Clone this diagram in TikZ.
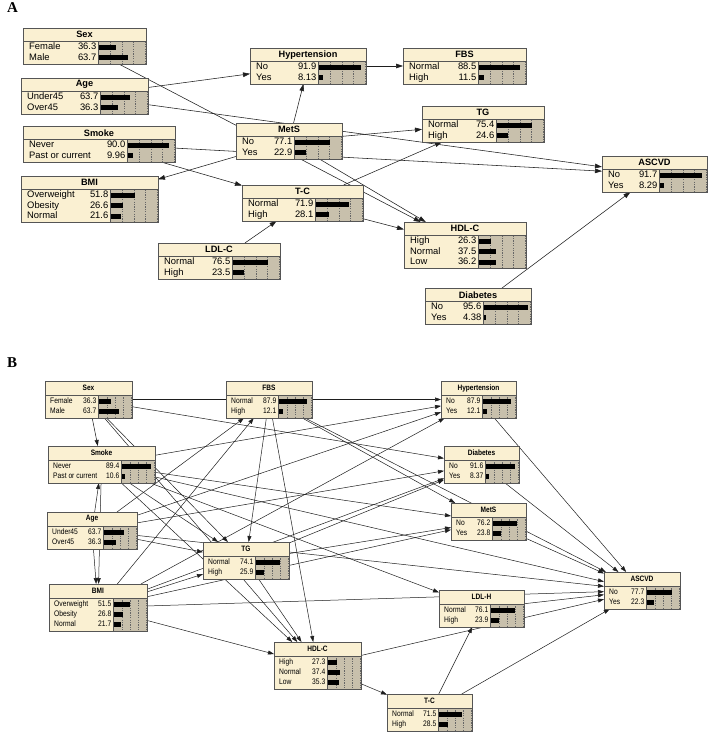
\documentclass[tikz,border=0pt]{standalone}
\usepackage{fontspec}
\setmainfont{Liberation Serif}
\newfontfamily\netfont{Liberation Sans}
\newfontfamily\netnarrow[FakeStretch=0.84]{Liberation Sans}
\usetikzlibrary{arrows.meta,backgrounds}

\definecolor{nodecream}{RGB}{250,240,210}
\definecolor{barbg}{RGB}{200,192,172}
\definecolor{boxline}{RGB}{85,85,85}
\definecolor{linkcol}{RGB}{30,30,30}

% Netica style node: name, top-left corner, width, title, states (label/percent)
\newcommand{\netnode}[5]{%
  \foreach \s/\v [count=\k] in {#5} {\xdef\nrows{\k}}
  \pgfmathsetmacro\boxh{\ttlh+\nrows*\rowh+\bodypad}
  \node[netbox, minimum width=#3pt, minimum height=\boxh pt] (#1) at #2 {};
  \begin{scope}[shift={(#1.north west)}]
    \fill[barbg] (#3-\barw,\ttlh) rectangle (#3,\boxh);
    \foreach \q in {1,...,4}
      \draw[gaugeline] (#3-\barw+1+\q*\barsc/4,\ttlh) -- ++(0,\boxh-\ttlh);
    \draw[boxline,line width=0.6pt] (0,\ttlh) -- (#3,\ttlh) (#3-\barw,\ttlh) -- (#3-\barw,\boxh);
    \node[nettitle] (#1-t) at (#3/2,\ttlh/2) {#4};
    \foreach \s/\v [count=\k] in {#5} {
      \pgfmathsetmacro\yy{\ttlh+\rowoff+(\k-1)*\rowh}
      \node[netstate,anchor=west] (#1-s\k) at (\labx,\yy) {\s};
      \node[netstate,anchor=east] (#1-v\k) at (#3-\barw-1.5,\yy) {\v};
      \fill (#3-\barw+1,\yy-\barh/2) rectangle ++(\v*\barsc/100,\barh);
    }
    \draw[boxline,line width=0.7pt] (0,0) rectangle (#3,\boxh);
  \end{scope}
}

\begin{document}
\begin{tikzpicture}[x=1pt,y=-1pt,
  netbox/.style={rectangle,draw=boxline,fill=nodecream,line width=0.7pt,inner sep=0pt,outer sep=0pt,anchor=north west},
  gaugeline/.style={draw=black!60,line width=0.35pt,dash pattern=on 1.2pt off 1.2pt},
  netlink/.style={draw=linkcol,line width=0.55pt,-{Triangle[length=7pt,width=4.6pt]}},
  panellab/.style={font=\bfseries\fontsize{15}{15}\selectfont,inner sep=0pt,anchor=base west}]

\begin{scope}[on background layer]
  \fill[white] (0,0) rectangle (708,733);
\end{scope}
\useasboundingbox (0,0) rectangle (708,733);

%% panel A
\node[panellab] (labA) at (7,13) {A};
\def\ttlh{13.5}\def\rowh{10.5}\def\rowoff{5.75}\def\bodypad{1.5}
\def\barw{48}\def\barsc{46}\def\barh{5}\def\labx{6}
\begin{scope}[nettitle/.style={font=\netfont\bfseries\fontsize{9.2}{10}\selectfont,inner sep=0pt},
  netstate/.style={font=\netfont\fontsize{9.4}{10}\selectfont,inner sep=0pt,text height=6.8pt,text depth=2pt}]
  \netnode{Sex}{(23,28)}{123}{Sex}{Female/36.3,Male/63.7}
  \netnode{Age}{(21,78)}{127}{Age}{Under45/63.7,Over45/36.3}
  \netnode{Smoke}{(23,126)}{152}{Smoke}{Never/90.0,Past or current/9.96}
  \netnode{BMI}{(21,176)}{137}{BMI}{Overweight/51.8,Obesity/26.6,Normal/21.6}
  \netnode{LDLC}{(158,243)}{122}{LDL-C}{Normal/76.5,High/23.5}
  \netnode{Hyp}{(250,48)}{116}{Hypertension}{No/91.9,Yes/8.13}
  \netnode{MetS}{(236,123)}{106}{MetS}{No/77.1,Yes/22.9}
  \netnode{FBS}{(403,48)}{123}{FBS}{Normal/88.5,High/11.5}
  \netnode{TG}{(422,106)}{122}{TG}{Normal/75.4,High/24.6}
  \netnode{ASCVD}{(602,156)}{105}{ASCVD}{No/91.7,Yes/8.29}
  \netnode{TC}{(242,185)}{121}{T-C}{Normal/71.9,High/28.1}
  \netnode{HDLC}{(404,222)}{122}{HDL-C}{High/26.3,Normal/37.5,Low/36.2}
  \netnode{Diab}{(425,288)}{106}{Diabetes}{No/95.6,Yes/4.38}
\end{scope}

\begin{scope}[on background layer]
  \draw[netlink] (Age) -- (Hyp);
  \draw[netlink] (Hyp) -- (FBS);
  \draw[netlink] (MetS) -- (Hyp);
  \draw[netlink] (Age) -- (ASCVD);
  \draw[netlink] (Smoke) -- (ASCVD);
  \draw[netlink] (Sex) -- (HDLC);
  \draw[netlink] (MetS) -- (HDLC);
  \draw[netlink] (MetS) -- (TG);
  \draw[netlink] (MetS) -- (BMI);
  \draw[netlink] (Smoke) -- (TC);
  \draw[netlink] (TC) -- (TG);
  \draw[netlink] (TC) -- (HDLC);
  \draw[netlink] (LDLC) -- (TC);
  \draw[netlink] (Diab) -- (ASCVD);
\end{scope}

%% panel B
\node[panellab] (labB) at (7,367) {B};
\def\ttlh{14}\def\rowh{10}\def\rowoff{6.5}\def\bodypad{3}
\def\barw{34}\def\barsc{32}\def\barh{5}\def\labx{5}
\begin{scope}[nettitle/.style={font=\netnarrow\bfseries\fontsize{7.8}{9}\selectfont,inner sep=0pt},
  netstate/.style={font=\netnarrow\fontsize{8}{9}\selectfont,inner sep=0pt,text height=6pt,text depth=1.8pt}]
  \netnode{bSex}{(45,381)}{87}{Sex}{Female/36.3,Male/63.7}
  \netnode{bFBS}{(226,381)}{86}{FBS}{Normal/87.9,High/12.1}
  \netnode{bHyp}{(441,381)}{75}{Hypertension}{No/87.9,Yes/12.1}
  \netnode{bSmoke}{(48,446)}{107}{Smoke}{Never/89.4,Past or current/10.6}
  \netnode{bDiab}{(444,446)}{75}{Diabetes}{No/91.6,Yes/8.37}
  \netnode{bAge}{(47,512)}{90}{Age}{Under45/63.7,Over45/36.3}
  \netnode{bMetS}{(451,503)}{75}{MetS}{No/76.2,Yes/23.8}
  \netnode{bTG}{(203,542)}{86}{TG}{Normal/74.1,High/25.9}
  \netnode{bASCVD}{(604,572)}{76}{ASCVD}{No/77.7,Yes/22.3}
  \netnode{bBMI}{(49,584)}{98}{BMI}{Overweight/51.5,Obesity/26.8,Normal/21.7}
  \netnode{bLDLH}{(439,590)}{85}{LDL-H}{Normal/76.1,High/23.9}
  \netnode{bHDLC}{(274,642)}{87}{HDL-C}{High/27.3,Normal/37.4,Low/35.3}
  \netnode{bTC}{(387,694)}{85}{T-C}{Normal/71.5,High/28.5}
\end{scope}

\begin{scope}[on background layer,
  netlink/.style={draw=linkcol,line width=0.5pt,-{Triangle[length=6pt,width=4pt]}}]
  \draw[netlink] (bSex) -- (bSmoke);
  \draw[netlink] (bSex) -- (bHyp);
  \draw[netlink] (bSex) -- (bDiab);
  \draw[netlink] (bSex) -- (bTG);
  \draw[netlink] (bSex) -- (bHDLC);
  \draw[netlink] (bAge) -- (bSmoke);
  \draw[netlink] (bAge) -- (bBMI);
  \draw[netlink] (bSmoke) -- (bBMI);
  \draw[netlink] (bAge) -- (bFBS);
  \draw[netlink] (bBMI) -- (bFBS);
  \draw[netlink] (bFBS) -- (bTG);
  \draw[netlink] (bFBS) -- (bHDLC);
  \draw[netlink] (bFBS) -- (bMetS);
  \draw[netlink] (bFBS) -- (bASCVD);
  \draw[netlink] (bSmoke) -- (bTG);
  \draw[netlink] (bSmoke) -- (bHDLC);
  \draw[netlink] (bAge) -- (bTG);
  \draw[netlink] (bTG) -- (bHDLC);
  \draw[netlink] (bBMI) -- (bHDLC);
  \draw[netlink] (bBMI) -- (bTG);
  \draw[netlink] (bBMI) -- (bDiab);
  \draw[netlink] (bTG) -- (bDiab);
  \draw[netlink] (bBMI) -- (bHyp);
  \draw[netlink] (bAge) -- (bHyp);
  \draw[netlink] (bSmoke) -- (bHyp);
  \draw[netlink] (bAge) -- (bDiab);
  \draw[netlink] (bTG) -- (bMetS);
  \draw[netlink] (bBMI) -- (bMetS);
  \draw[netlink] (bSmoke) -- (bMetS);
  \draw[netlink] (bSmoke) -- (bASCVD);
  \draw[netlink] (bAge) -- (bASCVD);
  \draw[netlink] (bSmoke) -- (bLDLH);
  \draw[netlink] (bBMI) -- (bASCVD);
  \draw[netlink] (bLDLH) -- (bASCVD);
  \draw[netlink] (bHDLC) -- (bASCVD);
  \draw[netlink] (bTC) -- (bASCVD);
  \draw[netlink] (bTC) -- (bLDLH);
  \draw[netlink] (bHDLC) -- (bTC);
  \draw[netlink] (bMetS) -- (bASCVD);
  \draw[netlink] (bDiab) -- (bASCVD);
  \draw[netlink] (bHyp) -- (bASCVD);
\end{scope}
\end{tikzpicture}
\end{document}
